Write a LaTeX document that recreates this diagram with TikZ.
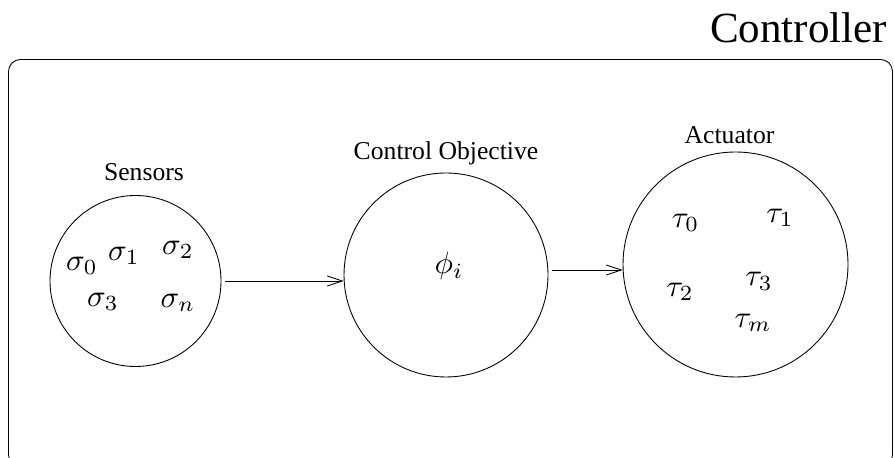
\documentclass[tikz,border=0pt]{standalone}
\usepackage{fontspec}
\setmainfont{Liberation Serif}
\usetikzlibrary{arrows.meta}

\begin{document}
\begin{tikzpicture}
	\tikzstyle{Block} = [draw,circle,inner sep=0pt,line width=0.5pt]
	\tikzstyle{Caption} = [font=\fontsize{14.6}{17}\selectfont,anchor=base]
	\tikzstyle{Sym} = [scale=1.76]
	\tikzstyle{Link} = [line width=0.5pt,-{Straight Barb[length=0.3cm,width=0.2cm]},shorten <=0.08cm]
	\useasboundingbox (0,0) rectangle (17.88,9.16);
	\draw[rounded corners=0.24cm,line width=0.5pt] (0.17,-0.18) rectangle (17.85,7.97);
	\node[font=\fontsize{24.5}{28}\selectfont,anchor=base] (head) at (15.97,8.30) {Controller};
	
	\node[Block,minimum size=3.42cm] (sens) at (2.71,3.54) {};
	\node[Block,minimum size=4.08cm] (obj) at (8.92,3.66) {};
	\node[Block,minimum size=4.5cm] (act) at (14.71,3.87) {};
	\node[Caption] (senslabel) at (2.88,5.54) {Sensors};
	\node[Caption] (objlabel) at (8.92,5.96) {Control Objective};
	\node[Caption] (actlabel) at (14.59,6.29) {Actuator};
	
	\node[Sym] (s0) at (1.64,3.84) {$\sigma_0$};
	\node[Sym] (s1) at (2.48,4.04) {$\sigma_1$};
	\node[Sym] (s2) at (3.56,4.16) {$\sigma_2$};
	\node[Sym] (s3) at (2.06,3.12) {$\sigma_3$};
	\node[Sym] (sn) at (3.56,3.10) {$\sigma_n$};
	\node[Sym] (phi) at (8.98,3.84) {$\phi_i$};
	\node[Sym] (t0) at (13.71,4.70) {$\tau_0$};
	\node[Sym] (t1) at (15.60,4.80) {$\tau_1$};
	\node[Sym] (t2) at (13.60,3.32) {$\tau_2$};
	\node[Sym] (t3) at (15.18,3.53) {$\tau_3$};
	\node[Sym] (tm) at (15.06,2.70) {$\tau_m$};
	
	\draw[Link] (sens.east) -- (sens.east -| obj.west);
	\coordinate (objout) at ([yshift=0.1cm]obj.east);
	\draw[Link] (objout) -- (objout -| act.west);
	
\end{tikzpicture}
\end{document}
